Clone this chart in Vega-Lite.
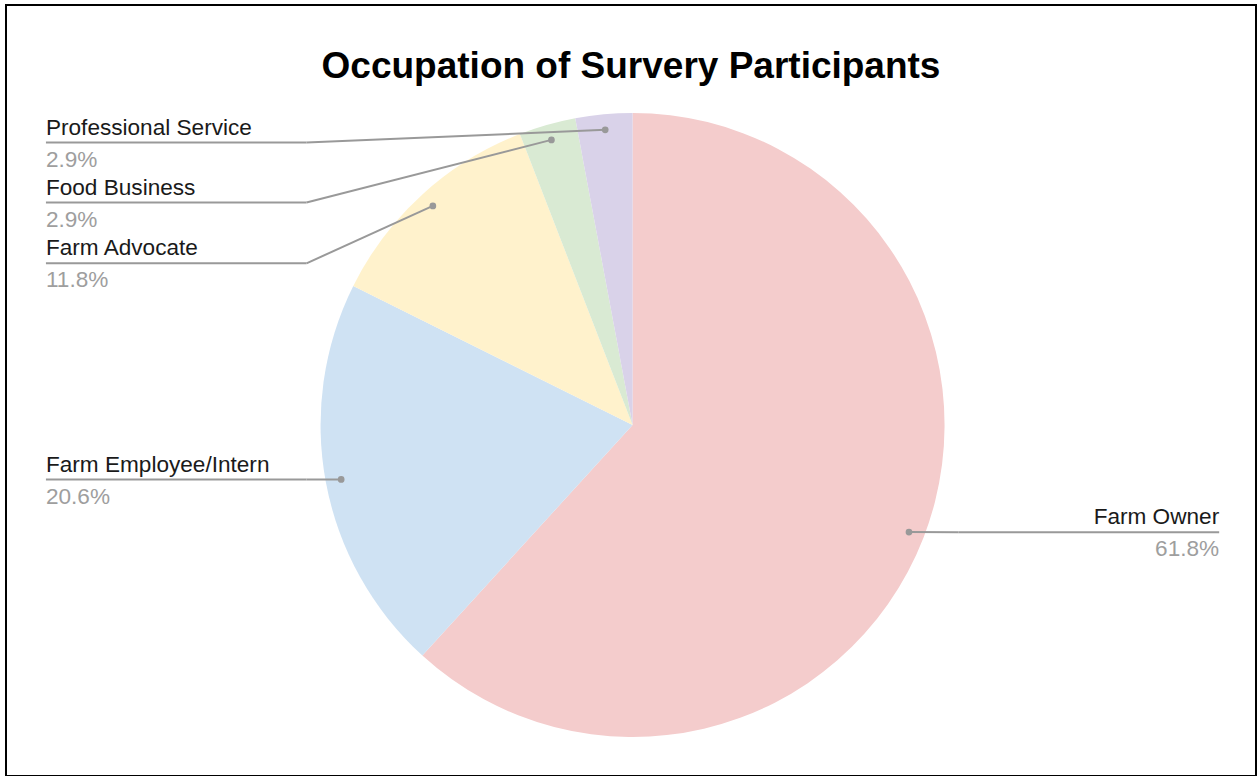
{
  "$schema": "https://vega.github.io/schema/vega-lite/v6.json",
  "width": 1250,
  "height": 771,
  "autosize": "none",
  "padding": {"left": 6, "top": 5, "right": 4, "bottom": 0},
  "background": "white",
  "title": {
    "text": "Occupation of Survery Participants",
    "font": "Liberation Sans",
    "fontSize": 37,
    "fontWeight": "bold",
    "color": "#000000",
    "anchor": "middle",
    "frame": "group",
    "baseline": "alphabetic",
    "offset": -110
  },
  "config": {
    "view": {"stroke": "#000000", "strokeWidth": 2},
    "font": "Liberation Sans"
  },
  "data": {
    "values": [
      {"occupation": "Farm Owner", "count": 21, "order": 1, "side": "right", "labelY": -34.4},
      {"occupation": "Farm Employee/Intern", "count": 7, "order": 2, "side": "left", "labelY": -17.5},
      {"occupation": "Farm Advocate", "count": 4, "order": 3, "side": "left", "labelY": 51.8},
      {"occupation": "Food Business", "count": 1, "order": 4, "side": "left", "labelY": 71.3},
      {"occupation": "Professional Service", "count": 1, "order": 5, "side": "left", "labelY": 90.5}
    ]
  },
  "transform": [
    {"joinaggregate": [{"op": "sum", "field": "count", "as": "total"}]},
    {"window": [{"op": "sum", "field": "count", "as": "cum"}], "sort": [{"field": "order"}], "frame": [null, 0]},
    {"calculate": "(datum.cum - datum.count / 2) / datum.total * 2 * PI", "as": "mid"},
    {"calculate": "95 * sin(datum.mid)", "as": "dotX"},
    {"calculate": "95 * cos(datum.mid)", "as": "dotY"},
    {"calculate": "format(datum.count / datum.total, '.1%')", "as": "pct"},
    {"calculate": "datum.side == 'right' ? 188 : -188", "as": "labelX"},
    {"calculate": "datum.side == 'right' ? 104.5 : -104.5", "as": "elbowX"}
  ],
  "layer": [
    {
      "mark": {"type": "arc", "radius": 312, "strokeWidth": 0},
      "encoding": {
        "theta": {"field": "count", "type": "quantitative", "stack": true},
        "order": {"field": "order", "type": "quantitative"},
        "color": {
          "field": "occupation",
          "type": "nominal",
          "scale": {
            "domain": ["Farm Owner", "Farm Employee/Intern", "Farm Advocate", "Food Business", "Professional Service"],
            "range": ["#f4cccc", "#cfe2f3", "#fff2cc", "#d9ead3", "#d9d2e9"]
          },
          "legend": null
        },
        "x": {"datum": 0, "type": "quantitative", "scale": {"domain": [-200.8, 199.8], "nice": false, "zero": false}, "axis": null},
        "y": {"datum": 0, "type": "quantitative", "scale": {"domain": [-112.5, 134.6], "nice": false, "zero": false}, "axis": null}
      }
    },
    {
      "mark": {"type": "rule", "color": "#999999", "strokeWidth": 2},
      "encoding": {
        "x": {"field": "dotX", "type": "quantitative", "scale": {"domain": [-200.8, 199.8], "nice": false, "zero": false}, "axis": null},
        "y": {"field": "dotY", "type": "quantitative", "scale": {"domain": [-112.5, 134.6], "nice": false, "zero": false}, "axis": null},
        "x2": {"field": "elbowX"},
        "y2": {"field": "labelY"}
      }
    },
    {
      "mark": {"type": "rule", "color": "#999999", "strokeWidth": 2},
      "encoding": {
        "x": {"field": "elbowX", "type": "quantitative", "scale": {"domain": [-200.8, 199.8], "nice": false, "zero": false}, "axis": null},
        "y": {"field": "labelY", "type": "quantitative", "scale": {"domain": [-112.5, 134.6], "nice": false, "zero": false}, "axis": null},
        "x2": {"field": "labelX"}
      }
    },
    {
      "mark": {"type": "point", "filled": true, "color": "#999999", "opacity": 1, "size": 45},
      "encoding": {
        "x": {"field": "dotX", "type": "quantitative", "scale": {"domain": [-200.8, 199.8], "nice": false, "zero": false}, "axis": null},
        "y": {"field": "dotY", "type": "quantitative", "scale": {"domain": [-112.5, 134.6], "nice": false, "zero": false}, "axis": null}
      }
    },
    {
      "transform": [{"filter": "datum.side == 'left'"}],
      "mark": {"type": "text", "align": "left", "baseline": "alphabetic", "dy": -8, "fontSize": 22.6, "font": "Liberation Sans", "color": "#1a1a1a"},
      "encoding": {
        "x": {"field": "labelX", "type": "quantitative", "scale": {"domain": [-200.8, 199.8], "nice": false, "zero": false}, "axis": null},
        "y": {"field": "labelY", "type": "quantitative", "scale": {"domain": [-112.5, 134.6], "nice": false, "zero": false}, "axis": null},
        "text": {"field": "occupation"}
      }
    },
    {
      "transform": [{"filter": "datum.side == 'left'"}],
      "mark": {"type": "text", "align": "left", "baseline": "alphabetic", "dy": 24, "fontSize": 22.6, "font": "Liberation Sans", "color": "#9e9e9e"},
      "encoding": {
        "x": {"field": "labelX", "type": "quantitative", "scale": {"domain": [-200.8, 199.8], "nice": false, "zero": false}, "axis": null},
        "y": {"field": "labelY", "type": "quantitative", "scale": {"domain": [-112.5, 134.6], "nice": false, "zero": false}, "axis": null},
        "text": {"field": "pct"}
      }
    },
    {
      "transform": [{"filter": "datum.side == 'right'"}],
      "mark": {"type": "text", "align": "right", "baseline": "alphabetic", "dy": -8, "fontSize": 22.6, "font": "Liberation Sans", "color": "#1a1a1a"},
      "encoding": {
        "x": {"field": "labelX", "type": "quantitative", "scale": {"domain": [-200.8, 199.8], "nice": false, "zero": false}, "axis": null},
        "y": {"field": "labelY", "type": "quantitative", "scale": {"domain": [-112.5, 134.6], "nice": false, "zero": false}, "axis": null},
        "text": {"field": "occupation"}
      }
    },
    {
      "transform": [{"filter": "datum.side == 'right'"}],
      "mark": {"type": "text", "align": "right", "baseline": "alphabetic", "dy": 24, "fontSize": 22.6, "font": "Liberation Sans", "color": "#9e9e9e"},
      "encoding": {
        "x": {"field": "labelX", "type": "quantitative", "scale": {"domain": [-200.8, 199.8], "nice": false, "zero": false}, "axis": null},
        "y": {"field": "labelY", "type": "quantitative", "scale": {"domain": [-112.5, 134.6], "nice": false, "zero": false}, "axis": null},
        "text": {"field": "pct"}
      }
    }
  ]
}
